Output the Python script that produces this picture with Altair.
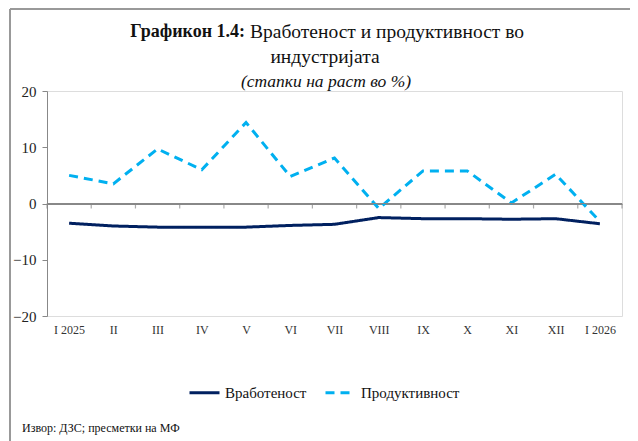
import altair as alt
import pandas as pd

months = ["I 2025", "II", "III", "IV", "V", "VI", "VII", "VIII", "IX", "X", "XI", "XII", "I 2026"]
employment = [-3.5, -4.0, -4.2, -4.2, -4.2, -3.9, -3.7, -2.5, -2.7, -2.7, -2.8, -2.7, -3.6]
productivity = [5.0, 3.5, 9.7, 6.0, 14.4, 4.8, 8.1, -0.9, 5.8, 5.8, 0.1, 5.2, -3.2]
series_names = ["Вработеност", "Продуктивност"]
y_ticks = [-20, -10, 0, 10, 20]
tick_positions = list(range(len(months) + 1))
zero_level = [0] * len(tick_positions)

title_bold = "Графикон 1.4:"
title_rest = "Вработеност и продуктивност во"
title_line2 = "индустријата"
title_line3 = "(стапки на раст во %)"
source_text = "Извор: ДЗС; пресметки на МФ"

FONT = "Liberation Serif"

rows = []
for m, e, p in zip(months, employment, productivity):
    rows.append({"month": m, "series": series_names[0], "value": e})
    rows.append({"month": m, "series": series_names[1], "value": p})
df = pd.DataFrame(rows)

W, H = 575, 225

xscale = alt.Scale(domain=months, paddingInner=0, paddingOuter=0)
yscale = alt.Scale(domain=[-20, 20], nice=False)

legend = alt.Legend(orient="none", legendX=141, legendY=285, direction="horizontal",
                    symbolType="stroke", symbolSize=900, symbolStrokeWidth=3,
                    labelFont=FONT, labelFontSize=15, labelColor="#111", labelOffset=4,
                    columnPadding=12, title=None)

lines = alt.Chart(df).mark_line(strokeWidth=3).encode(
    x=alt.X("month:N", sort=months, scale=xscale, title=None,
            axis=alt.Axis(orient="bottom", domain=False, ticks=False,
                          labelAngle=0, labelFont=FONT, labelFontSize=12, labelColor="#333",
                          labelPadding=8)),
    y=alt.Y("value:Q", scale=yscale, title=None,
            axis=alt.Axis(values=y_ticks, grid=True,
                          gridColor={"condition": {"test": "datum.value === 0", "value": "#888888"},
                                     "value": "transparent"},
                          gridWidth=1.2,
                          domainColor="#888", tickColor="#888",
                          tickSize=5, labelFont=FONT, labelFontSize=15, labelColor="#222",
                          labelPadding=6)),
    color=alt.Color("series:N", scale=alt.Scale(domain=series_names, range=["#002060", "#00B0F0"]),
                    sort=series_names, legend=legend),
    strokeDash=alt.StrokeDash("series:N", scale=alt.Scale(domain=series_names, range=[[1, 0], [9, 6]]),
                              sort=series_names, legend=legend),
)

# category axis drawn at zero (Excel style): boundary positions on their own x scale
tdf = pd.DataFrame({"pos": tick_positions, "zero": zero_level})
pos_x = alt.X("pos:Q", scale=alt.Scale(domain=[0, len(months)], nice=False, zero=False), axis=None)
zero_line = alt.Chart(tdf).mark_line(color="#888888", strokeWidth=1.2).encode(
    x=pos_x, y=alt.Y("zero:Q"))
zero_ticks = alt.Chart(tdf).mark_tick(color="#888888", size=5, thickness=1.2, orient="vertical",
                                      yOffset=2.5).encode(x=pos_x, y=alt.Y("zero:Q"))

def txt(s, x, y, **kw):
    return alt.Chart(pd.DataFrame({"t": [s]})).mark_text(font=FONT, **kw).encode(
        text="t:N", x=alt.value(x), y=alt.value(y))

t1 = txt(title_bold, 198, -59, align="right", fontSize=18, fontWeight="bold", color="#111")
t2 = txt(title_rest, 203, -59, align="left", fontSize=19.5, color="#111")
t3 = txt(title_line2, 278, -34, align="center", fontSize=19.5, color="#111")
t4 = txt(title_line3, 279, -9, align="center", fontSize=17.5, fontStyle="italic", color="#111")
src = txt(source_text, -25, 337, align="left", fontSize=12, color="#111")

frame_left = alt.Chart(pd.DataFrame({"a": [0]})).mark_rule(color="#999", strokeWidth=2).encode(
    x=alt.value(-37), y=alt.value(-82), y2=alt.value(360))
frame_top = alt.Chart(pd.DataFrame({"a": [0]})).mark_rule(color="#999", strokeWidth=2).encode(
    x=alt.value(-37), x2=alt.value(600), y=alt.value(-82))

chart = alt.layer(
    frame_left, frame_top, lines, zero_line, zero_ticks, t1, t2, t3, t4, src
).resolve_scale(x="independent").properties(
    width=W, height=H,
    autosize=alt.AutoSizeParams(type="none"),
    padding={"left": 39, "top": 83, "right": 8, "bottom": 125},
).configure_view(stroke=None).configure(background="white")

chart.save("out.html", embed_options={"renderer": "svg", "actions": False})
